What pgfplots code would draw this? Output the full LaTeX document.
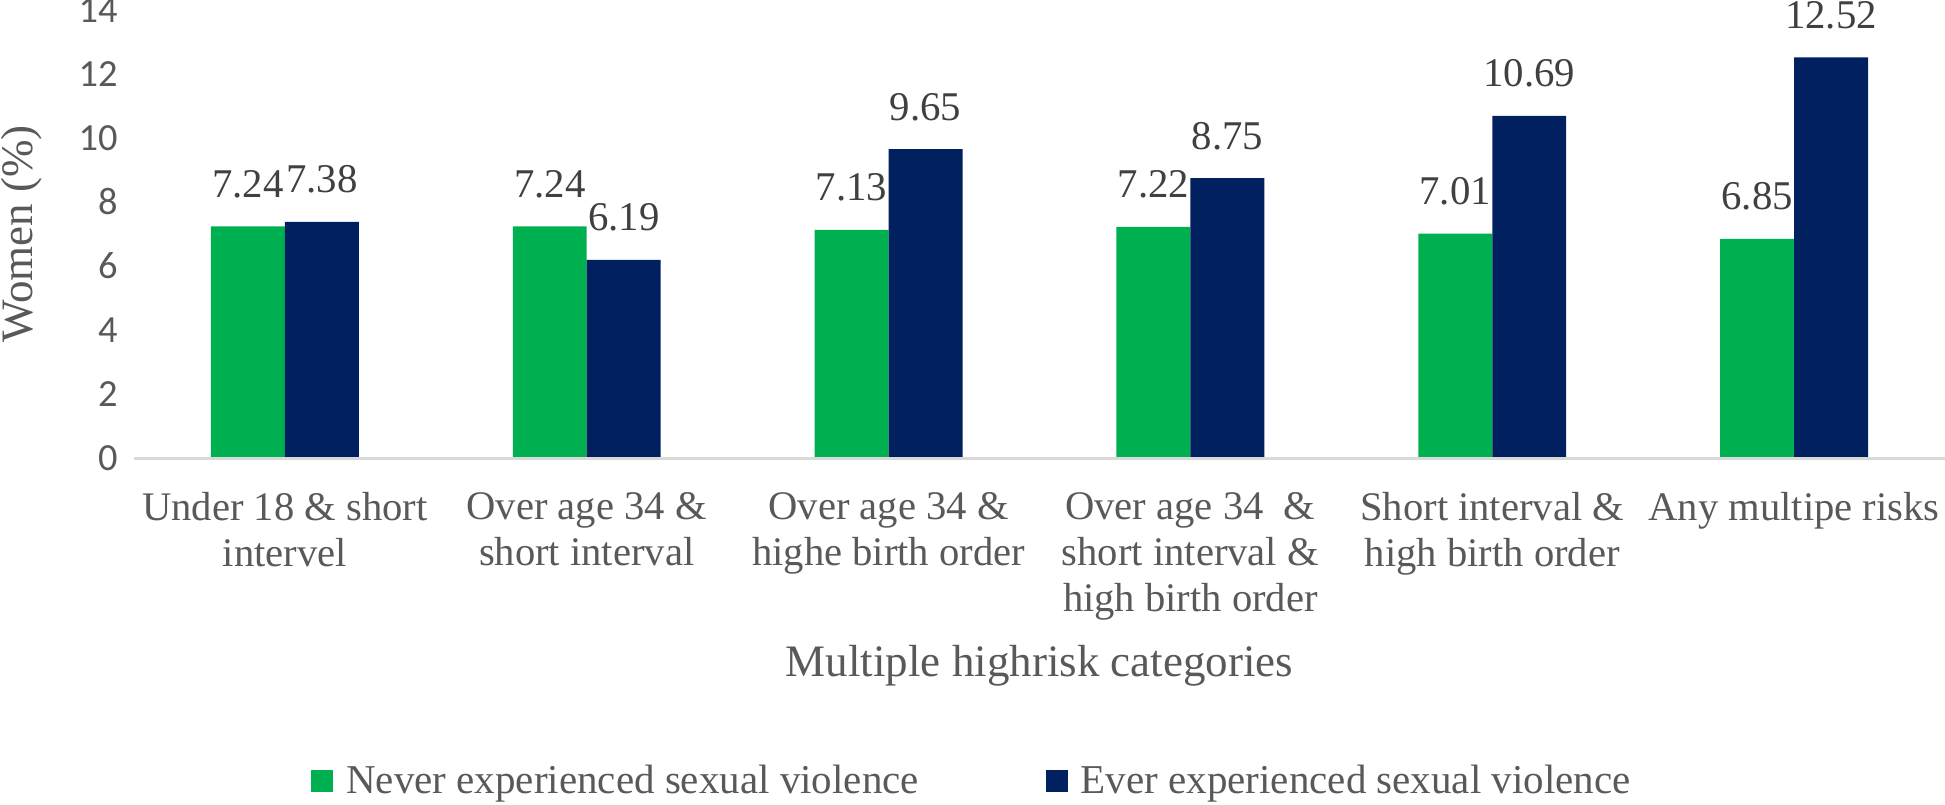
\documentclass[border=0pt]{standalone}
\usepackage{fontspec}
\setmainfont{Liberation Serif}
\newfontfamily\carlito{Carlito}
\usepackage{pgfplots}
\pgfplotsset{compat=1.18}
\definecolor{cgreen}{HTML}{00B050}
\definecolor{cnavy}{HTML}{002060}
\definecolor{ctext}{HTML}{595959}
\definecolor{clab}{HTML}{404040}
\definecolor{caxis}{HTML}{D9D9D9}
\begin{document}
\begin{tikzpicture}
\begin{axis}[
  at={(0,0)}, anchor=south west,
  scale only axis, width=905.5pt, height=224pt,
  xmin=-0.5, xmax=5.5, ymin=0, ymax=14,
  ytick={0,2,...,14},
  xtick={0,...,5},
  xticklabels={{Under 18 \& short\\intervel},{Over age 34 \&\\short interval},{Over age 34 \&\\highe birth order},{Over age 34 \ \&\\short interval \&\\high birth order},{Short interval \&\\high birth order},{Any multipe risks}},
  /pgf/number format/assume math mode=true,
  axis lines*=left,
  x axis line style={-, draw=caxis, line width=1.5pt},
  y axis line style={draw=none},
  tick style={draw=none},
  major tick length=0pt,
  yticklabel style={font=\carlito\fontsize{19.2}{19.2}\selectfont, text=ctext, anchor=east, inner sep=0pt, xshift=-8pt},
  xticklabel style={font=\fontsize{20.3}{23}\selectfont, text=ctext, align=center, anchor=north, inner sep=0pt, yshift=-17pt},
  xlabel={Multiple highrisk categories},
  ylabel={Women (\%)},
  xlabel style={font=\fontsize{22.5}{24}\selectfont, text=ctext, at={(axis description cs:0.5,-0.4866)}, anchor=base},
  ylabel style={font=\fontsize{22.5}{24}\selectfont, text=ctext, at={(axis description cs:-0.06184,0.5)}, rotate=0, anchor=center},
  ybar=0pt, bar width=0.245,
  nodes near coords,
  every node near coord/.append style={font=\fontsize{20.4}{22}\selectfont, text=clab, anchor=south, inner sep=0pt, yshift=14pt},
  legend columns=2,
  legend style={at={(axis description cs:0.463,-0.721)}, anchor=center, draw=none, fill=none,
    font=\fontsize{20.5}{24}\selectfont, text=ctext,
    /tikz/every odd column/.append style={column sep=5pt},
    /tikz/every even column/.append style={column sep=62pt},
    nodes={inner sep=1.5pt}},
  legend image code/.code={\fill[#1] (0pt,-5.5pt) rectangle (11pt,5.5pt);},
  axis on top,
]
\addplot[fill=cgreen, draw=none, bar shift=-0.1225] coordinates {(0,7.24)(1,7.24)(2,7.13)(3,7.22)(4,7.01)(5,6.85)};
\addplot[fill=cnavy, draw=none, bar shift=0.1225] coordinates {(0,7.38)(1,6.19)(2,9.65)(3,8.75)(4,10.69)(5,12.52)};
\legend{Never experienced sexual violence, Ever experienced sexual violence}
\end{axis}
\pgfresetboundingbox
\path (-67pt,-173pt) rectangle (905.5pt,229pt);
\end{tikzpicture}
\end{document}
